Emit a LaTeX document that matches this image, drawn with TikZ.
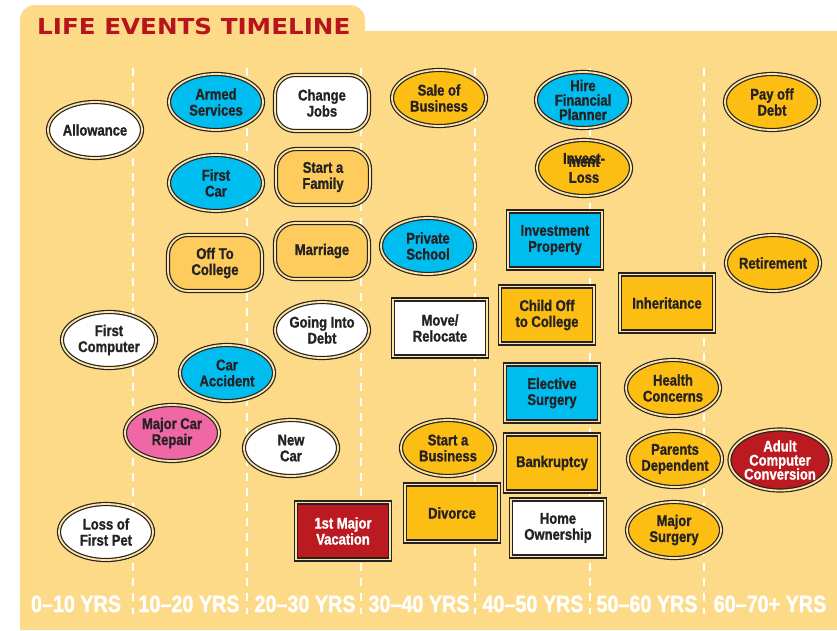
\documentclass[tikz,border=0pt]{standalone}
\usepackage{fontspec}
\newfontfamily\evfont[FakeStretch=0.84,BoldFeatures={FakeBold=1.2}]{Liberation Sans}
\newfontfamily\ttlfont[FakeStretch=1.12]{DejaVu Sans}
\usetikzlibrary{shapes.geometric}
\definecolor{panel}{RGB}{253,218,135}
\definecolor{ink}{RGB}{38,34,35}
\definecolor{gapc}{RGB}{253,228,160}
\definecolor{evcyan}{RGB}{0,189,240}
\definecolor{evgold}{RGB}{253,190,20}
\definecolor{evpeach}{RGB}{254,204,92}
\definecolor{evpink}{RGB}{240,103,166}
\definecolor{evred}{RGB}{186,26,32}
\definecolor{ttlred}{RGB}{183,20,29}
\tikzset{
  evtxt/.style={font=\evfont\bfseries\fontsize{15.5}{16}\selectfont,
    text=ink,align=center},
  dbl/.style={draw=ink,line width=1.2pt,double=gapc,double distance=1.8pt},
  evell/.style={ellipse,dbl,evtxt,inner sep=-8pt,minimum width=94pt,
    minimum height=56pt},
  evrnd/.style={rectangle,rounded corners=20pt,dbl,evtxt,inner sep=0pt,
    minimum width=94pt,minimum height=56pt},
  evbox/.style={rectangle,dbl,evtxt,inner sep=0pt,minimum width=94pt,
    minimum height=57pt},
  divider/.style={white,line width=2.4pt,dash pattern=on 8pt off 7pt},
  yrlbl/.style={font=\evfont\bfseries\fontsize{23.5}{24}\selectfont,
    text=white,inner sep=0pt,anchor=base},
  ttltxt/.style={font=\ttlfont\bfseries\fontsize{22}{24}\selectfont,
    text=ttlred,inner sep=0pt,anchor=base west},
}
\begin{document}
\begin{tikzpicture}[x=1pt,y=-1pt]
  \useasboundingbox (0,0) rectangle (837,630);
  % panel with title tab
  \fill[panel] (20,630) [rounded corners=15pt] -- (20,5) -- (365,5)
    [sharp corners] -- (365,31) -- (837,31) -- (837,630) -- cycle;
  \node[ttltxt] (title) at (37,34) {LIFE EVENTS TIMELINE};
  \foreach \xx in {133,247,361,475,590,704}
    \draw[divider] (\xx,68) -- (\xx,614);

  % 0-10
  \node[evell,fill=white] (allowance) at (95,130) {Allowance};
  \node[evell,fill=white] (firstcomp) at (109,340) {First\\Computer};
  \node[evell,fill=white] (losspet) at (106,532) {Loss of\\First Pet};
  % 10-20
  \node[evell,fill=evcyan] (armed) at (216,102) {Armed\\Services};
  \node[evell,fill=evcyan] (firstcar) at (216,183) {First\\Car};
  \node[evrnd,fill=evpeach] (offcollege) at (215,263) {Off To\\College};
  \node[evell,fill=evcyan] (caraccident) at (227,373) {Car\\Accident};
  \node[evell,fill=evpink] (carrepair) at (172,433) {Major Car\\Repair};
  % 20-30
  \node[evrnd,fill=white] (changejobs) at (322,103) {Change\\Jobs};
  \node[evrnd,fill=evpeach] (startfamily) at (323,177) {Start a\\Family};
  \node[evrnd,fill=evpeach] (marriage) at (322,251) {Marriage};
  \node[evell,fill=white] (goingdebt) at (322,330) {Going Into\\Debt};
  \node[evell,fill=white] (newcar) at (291,448) {New\\Car};
  \node[evbox,fill=evred,text=white] (vacation) at (343,531)
    {1st Major\\Vacation};
  % 30-40
  \node[evell,fill=evgold] (salebiz) at (439,98) {Sale of\\Business};
  \node[evell,fill=evcyan] (privschool) at (428,246) {Private\\School};
  \node[evbox,fill=white] (relocate) at (440,328) {Move/\\Relocate};
  \node[evell,fill=evgold] (startbiz) at (448,448) {Start a\\Business};
  \node[evbox,fill=evgold] (divorce) at (452,513) {Divorce};
  % 40-50
  \node[evell,fill=evcyan] (hireplanner) at (583,100)
    {Hire\\[-1.5pt]Financial\\[-1.5pt]Planner};
  \node[evell,fill=evgold] (investloss) at (584,168)
    {Invest-\\[-13pt]ment\\Loss};
  \node[evbox,fill=evcyan] (investprop) at (555,240)
    {Investment\\Property};
  \node[evbox,fill=evgold] (childcollege) at (547,315)
    {Child Off\\to College};
  \node[evbox,fill=evcyan] (elective) at (552,393) {Elective\\Surgery};
  \node[evbox,fill=evgold] (bankruptcy) at (552,463) {Bankruptcy};
  \node[evbox,fill=white] (homeown) at (558,528) {Home\\Ownership};
  % 50-60
  \node[evbox,fill=evgold] (inheritance) at (667,303) {Inheritance};
  \node[evell,fill=evgold] (health) at (673,388) {Health\\Concerns};
  \node[evell,fill=evgold] (parents) at (675,459) {Parents\\Dependent};
  \node[evell,fill=evgold] (majorsurg) at (674,530) {Major\\Surgery};
  % 60-70+
  \node[evell,fill=evgold] (payoff) at (772,102) {Pay off\\Debt};
  \node[evell,fill=evgold] (retirement) at (773,263) {Retirement};
  \node[evell,fill=evred,text=white,minimum width=101pt,
    minimum height=61pt] (adultcomp) at (780,460)
    {Adult\\[-2pt]Computer\\[-2pt]Conversion};

  % age bands
  \node[yrlbl] (y0) at (76,612) {0–10 YRS};
  \node[yrlbl] (y1) at (189,612) {10–20 YRS};
  \node[yrlbl] (y2) at (305,612) {20–30 YRS};
  \node[yrlbl] (y3) at (419,612) {30–40 YRS};
  \node[yrlbl] (y4) at (533,612) {40–50 YRS};
  \node[yrlbl] (y5) at (647,612) {50–60 YRS};
  \node[yrlbl] (y6) at (770,612) {60–70+ YRS};
\end{tikzpicture}
\end{document}
